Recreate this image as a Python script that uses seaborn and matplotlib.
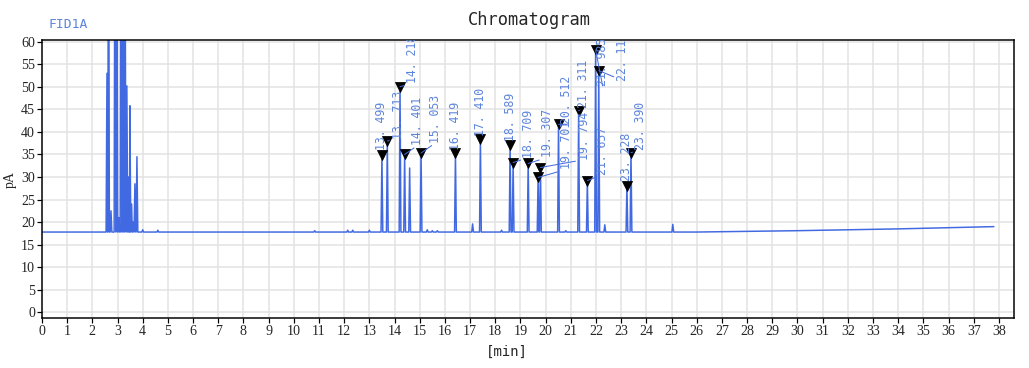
import numpy as np
import pandas as pd
import matplotlib
matplotlib.use("Agg")
import matplotlib.pyplot as plt
import seaborn as sns

# peak table (retention time in min, apex height in pA)
peak_times = [13.499, 13.713, 14.218, 14.401, 15.053, 16.419, 17.410, 18.589, 18.709,
              19.307, 19.701, 19.794, 20.512, 21.311, 21.657, 21.985, 22.110, 23.228, 23.390]
peak_heights = [34.8, 38.0, 50.0, 35.0, 35.3, 35.3, 38.5, 37.2, 33.2,
                33.0, 29.9, 32.1, 41.7, 44.7, 29.2, 58.2, 53.6, 28.1, 35.4]

# unlabelled peaks (solvent front + small bumps)
other_times = [2.58, 2.64, 2.74, 2.90, 2.97, 3.05, 3.14, 3.22, 3.30, 3.37, 3.44, 3.49,
               3.56, 3.62, 3.69, 3.77, 4.00, 4.60, 10.83, 12.14, 12.34, 13.00, 14.60,
               15.30, 15.50, 15.70, 17.10, 18.25, 20.80, 22.35, 25.05]
other_heights = [53, 120, 22.5, 110, 90, 21, 130, 100, 80, 50.2, 30, 45.8,
                 24, 20, 28.5, 34.5, 18.3, 18.2, 18.1, 18.2, 18.2, 18.2, 32.0,
                 18.3, 18.1, 18.1, 19.6, 18.2, 18.1, 19.4, 19.5]

# baseline drift
base_times = [0.0, 26.0, 30.0, 34.0, 37.8]
base_values = [17.8, 17.8, 18.1, 18.5, 19.0]

# label offsets from the marker, in px (right, up)
label_dx = [0, 11, 12, 13, 14, 0, 0, 0, 15, 19, 28, 44, 8, 5, 15, 7, 24, 0, 10]
label_dy = [5, 2, 4, 9, 10, 3, 3, 4, 5, 6, 8, 8, 0, 3, 6, -36, -10, 5, 3]

line_blue = "#4169e1"
text_blue = "#5b84dc"
half_w = 0.035
peak_base = 17.8

# build the trace: baseline knots plus a narrow spike per peak
rows = list(zip(base_times, base_values))
for t, h in zip(peak_times + other_times, peak_heights + other_heights):
    rows += [(t - half_w, peak_base), (t, h), (t + half_w, peak_base)]
trace = pd.DataFrame(rows, columns=["time", "pA"]).sort_values("time", kind="stable")
peaks = pd.DataFrame({"time": peak_times, "pA": peak_heights})

sns.set_style("whitegrid")
plt.rcParams["font.family"] = ["DejaVu Sans"]

fig = plt.figure(figsize=(1029 / 72, 368 / 72), dpi=72)
ax = fig.add_axes([42 / 1029, 1 - 318 / 368, (1014 - 42) / 1029, (318 - 40) / 368])

sns.lineplot(data=trace, x="time", y="pA", sort=False, estimator=None,
             color=line_blue, lw=1.5, ax=ax)
sns.scatterplot(data=peaks, x="time", y="pA", marker="v", s=100, color="black",
                edgecolor="black", zorder=5, ax=ax, clip_on=False)

for t, h, dx, dy in zip(peak_times, peak_heights, label_dx, label_dy):
    arrow = None
    if dx != 0 or dy < 0:
        arrow = dict(arrowstyle="-", color=line_blue, lw=1.0, shrinkA=0, shrinkB=0,
                     relpos=(0.5, 0.0))
    ann = ax.annotate(f"{t:.3f}".replace(".", ". "), xy=(t, h), xytext=(dx, dy),
                      textcoords="offset points", rotation=90, ha="center", va="bottom",
                      fontsize=11.5, family="DejaVu Sans Mono", color=text_blue,
                      arrowprops=arrow, zorder=6)
    ann.set_clip_on(True)
    ann.set_clip_box(ax.bbox)

ax.set_xlim(0, 38.6)
ax.set_ylim(-1.26, 60.38)
ax.set_xticks(range(0, 39))
ax.set_yticks(range(0, 61, 5))
ax.grid(True, color="#e2e2e2", lw=1.5)
ax.tick_params(axis="both", direction="out", length=5, width=1.2, color="black",
               labelsize=14, pad=2, left=True, bottom=True)
for lab in ax.get_xticklabels() + ax.get_yticklabels():
    lab.set_family("Liberation Serif")
for side in ["left", "bottom", "top", "right"]:
    ax.spines[side].set_color("black")
    ax.spines[side].set_linewidth(1.5)

ax.set_xlabel("")
ax.set_ylabel("")
fig.text(529 / 1029, 1 - 20 / 368, "Chromatogram", ha="center", va="center",
         fontsize=17, family="DejaVu Sans Mono")
fig.text(48 / 1029, 1 - 25 / 368, "FID1A", ha="left", va="center",
         fontsize=13, family="DejaVu Sans Mono", color=text_blue)
fig.text(10 / 1029, 1 - 180 / 368, "pA", ha="center", va="center", rotation=90,
         fontsize=14, family="Liberation Serif")
fig.text(507 / 1029, 1 - 352 / 368, "[min]", ha="center", va="center",
         fontsize=14, family="DejaVu Sans Mono")

fig.savefig("out.png", dpi=72, facecolor="white")
